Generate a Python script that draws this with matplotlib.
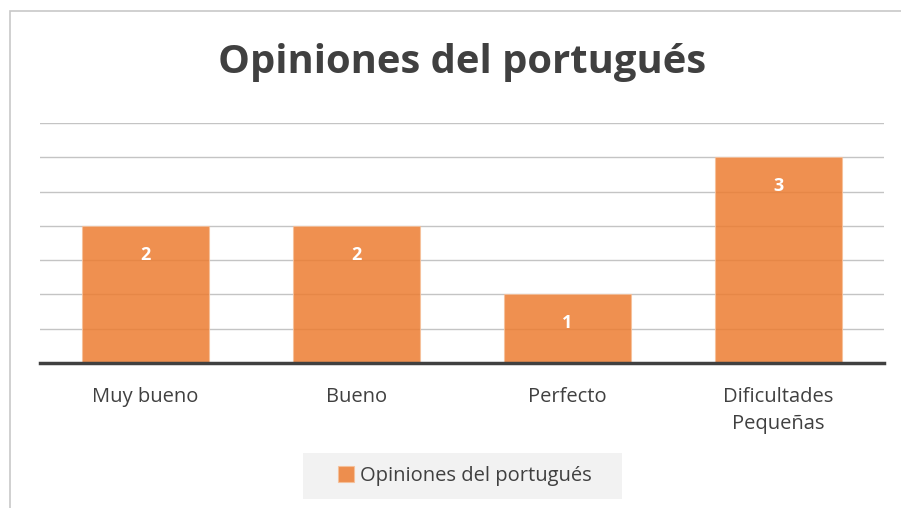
import matplotlib
matplotlib.use("Agg")
import matplotlib.pyplot as plt
from matplotlib.patches import Rectangle

categories = ["Muy bueno", "Bueno", "Perfecto", "Dificultades\nPequeñas"]
values = [2, 2, 1, 3]
series_name = "Opiniones del portugués"
title = "Opiniones del portugués"

plt.rcParams["font.family"] = ["Open Sans", "DejaVu Sans"]

fig = plt.figure(figsize=(9.01, 5.08), dpi=100)
fig.patch.set_facecolor("white")

# chart frame (extends past the right and bottom edge)
fig.patches.append(Rectangle((10 / 901, -0.05), 1.1, 1 - 11 / 508 + 0.05,
                             transform=fig.transFigure, fill=False,
                             edgecolor="#c8c8c8", linewidth=1.2))
# legend background
fig.patches.append(Rectangle((303 / 901, 1 - 499 / 508), 319 / 901, 46 / 508,
                             transform=fig.transFigure, facecolor="#f2f2f2",
                             edgecolor="none"))

ax = fig.add_axes([40 / 901, 1 - 363 / 508, 844 / 901, 240 / 508])
x = range(len(categories))
bars = ax.bar(x, values, width=0.6, color="#ED7D31", alpha=0.85,
              edgecolor="#F6C09A", linewidth=0.8, zorder=3, label=series_name)

ax.set_xlim(-0.5, len(categories) - 0.5)
ax.set_ylim(0, 3.5)
ax.set_yticks([0.5, 1, 1.5, 2, 2.5, 3, 3.5])
ax.yaxis.grid(True, color="#c4c4c4", linewidth=1.0, zorder=0)
ax.tick_params(axis="y", length=0, labelleft=False)
ax.tick_params(axis="x", length=0, pad=17, labelsize=14.5, colors="#404040")
ax.set_xticks(list(x))
ax.set_xticklabels(categories, linespacing=1.5)
for s in ["top", "right", "left"]:
    ax.spines[s].set_visible(False)
ax.spines["bottom"].set_color("#404040")
ax.spines["bottom"].set_linewidth(2.5)
ax.spines["bottom"].set_zorder(4)

for b, v in zip(bars, values):
    ax.text(b.get_x() + b.get_width() / 2, v - 0.42, str(v), ha="center",
            va="center", color="white", fontsize=13, fontweight="bold", zorder=5)

fig.text(462 / 901, 1 - 63 / 508, title, ha="center", va="center",
         fontsize=28.8, fontweight="bold", color="#404040")

leg = fig.legend(handles=[bars], labels=[series_name], loc="center",
                 bbox_to_anchor=(465 / 901, 1 - 476 / 508), frameon=False,
                 fontsize=14.5, handlelength=0.8, handleheight=0.8,
                 handletextpad=0.3, borderpad=0, borderaxespad=0)
for t in leg.get_texts():
    t.set_color("#404040")

fig.savefig("out.png", dpi=100)
